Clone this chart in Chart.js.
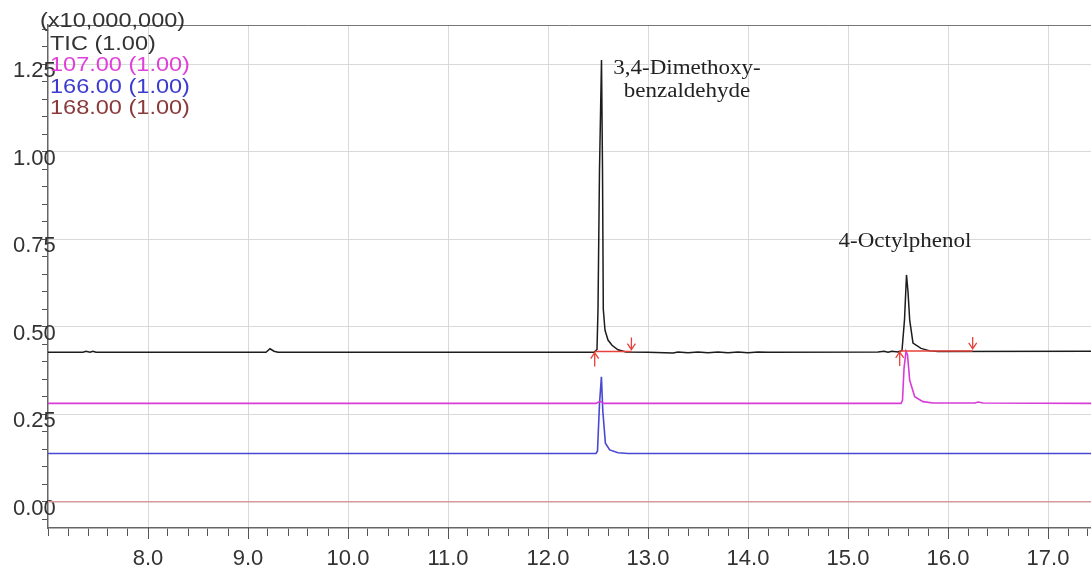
<!DOCTYPE html>
<html>
<head>
<meta charset="utf-8">
<script src="https://cdn.jsdelivr.net/npm/chart.js@4.4.1/dist/chart.umd.min.js"></script>
<style>
  body { margin: 0; background: #fff; }
  #wrap { width: 1091px; height: 571px; }
</style>
</head>
<body>
<div id="wrap"><canvas id="chromChart" width="1091" height="571"></canvas></div>
<script>
// retention time (min) vs intensity (x10,000,000)
const ticTime  = [7.0, 7.35, 7.38, 7.42, 7.45, 7.48, 9.18, 9.22, 9.26, 9.30,
                  12.46, 12.49, 12.50, 12.515, 12.535, 12.545, 12.553, 12.57, 12.60, 12.64, 12.70, 12.78,
                  13.0, 13.25, 13.3, 13.4, 13.5, 13.6, 13.7, 13.8, 13.9, 14.0, 14.1, 14.2,
                  15.30, 15.36, 15.40, 15.44, 15.50, 15.54, 15.565, 15.585, 15.60, 15.617, 15.65, 15.73, 15.82, 15.90, 17.43];
const ticValue = [0.427, 0.427, 0.430, 0.427, 0.430, 0.427, 0.427, 0.437, 0.430, 0.427,
                  0.427, 0.435, 0.55, 0.95, 1.262, 0.95, 0.55, 0.49, 0.462, 0.447, 0.434, 0.428,
                  0.427, 0.425, 0.428, 0.426, 0.428, 0.426, 0.428, 0.426, 0.428, 0.426, 0.428, 0.427,
                  0.428, 0.430, 0.427, 0.430, 0.428, 0.432, 0.52, 0.648, 0.60, 0.519, 0.453, 0.438, 0.431, 0.429, 0.430];

const ion107Time  = [7.0, 12.48, 12.52, 12.56, 15.53, 15.545, 15.56, 15.58, 15.595, 15.617, 15.667, 15.75, 15.85, 16.27, 16.30, 16.35, 17.43];
const ion107Value = [0.281, 0.281, 0.287, 0.281, 0.281, 0.29, 0.38, 0.43, 0.42, 0.347, 0.30, 0.286, 0.282, 0.282, 0.285, 0.282, 0.281];

const ion166Time  = [7.0, 12.48, 12.495, 12.515, 12.534, 12.548, 12.574, 12.617, 12.70, 12.80, 17.43];
const ion166Value = [0.138, 0.138, 0.145, 0.28, 0.357, 0.26, 0.167, 0.148, 0.140, 0.138, 0.138];

const ion168Time  = [7.0, 17.43];
const ion168Value = [0.0, 0.0];

// integration baselines (start, end, level)
const integStart = [12.467, 15.517];
const integEnd   = [12.834, 16.247];
const integLevel = [0.429, 0.431];

// peak annotations
const peakNames = [['3,4-Dimethoxy-', 'benzaldehyde'], ['4-Octylphenol']];
const peakTime  = [13.39, 15.57];
const peakValue = [1.236, 0.742];

const legendLines  = ['TIC (1.00)', '107.00 (1.00)', '166.00 (1.00)', '168.00 (1.00)'];
const legendColors = ['#333333', '#e040d8', '#3b3bd0', '#8a3a3a'];

// axis ticks
const xTicks = [];
for (let k = 0; k <= 52; k++) xTicks.push(+(7 + k * 0.2).toFixed(1));
const yTicks = [];
for (let k = -1; k <= 27; k++) yTicks.push(+(k * 0.05).toFixed(2));

const isMajorX = v => Math.abs(v - Math.round(v)) < 1e-6 && v >= 8;
const isMajorY = v => Math.abs(v / 0.25 - Math.round(v / 0.25)) < 1e-6 && v >= 0;

const toPoints = (ts, vs) => ts.map((t, i) => ({ x: t, y: vs[i] }));
const lineSet = (label, ts, vs, color, width) => ({
    label: label,
    data: toPoints(ts, vs),
    borderColor: color,
    borderWidth: width,
    pointRadius: 0,
    tension: 0,
    fill: false
});

function stretchText(ctx, str, px, py, align, sx) {
    ctx.save();
    ctx.translate(px, py);
    ctx.scale(sx, 1);
    ctx.textAlign = align;
    ctx.textBaseline = 'middle';
    ctx.fillText(str, 0, 0);
    ctx.restore();
}

function arrow(ctx, px, yFrom, yTo) {
    const dir = Math.sign(yTo - yFrom);
    ctx.beginPath();
    ctx.moveTo(px, yFrom);
    ctx.lineTo(px, yTo);
    ctx.moveTo(px - 4, yTo - dir * 6);
    ctx.lineTo(px, yTo);
    ctx.lineTo(px + 4, yTo - dir * 6);
    ctx.stroke();
}

const overlay = {
    id: 'overlay',
    afterDatasetsDraw(chart) {
        const { ctx, chartArea, scales: { x, y } } = chart;

        // top frame
        ctx.save();
        ctx.strokeStyle = '#777';
        ctx.lineWidth = 1;
        ctx.beginPath();
        ctx.moveTo(chartArea.left, chartArea.top + 0.5);
        ctx.lineTo(chartArea.right, chartArea.top + 0.5);
        ctx.stroke();

        // longer marks for whole minutes
        ctx.strokeStyle = '#555';
        xTicks.filter(isMajorX).forEach(t => {
            const px = Math.round(x.getPixelForValue(t)) + 0.5;
            ctx.beginPath();
            ctx.moveTo(px, chartArea.bottom);
            ctx.lineTo(px, chartArea.bottom + 11);
            ctx.stroke();
        });

        // integration arrows
        ctx.strokeStyle = '#e8403a';
        ctx.lineWidth = 1.3;
        integStart.forEach((t0, i) => {
            const py = y.getPixelForValue(integLevel[i]);
            arrow(ctx, x.getPixelForValue(t0), py + 15, py + 1);
            arrow(ctx, x.getPixelForValue(integEnd[i]), py - 14, py - 2);
        });

        // peak names
        ctx.fillStyle = '#222';
        ctx.font = '20px "Liberation Serif", "Times New Roman", serif';
        peakNames.forEach((lines, i) => {
            const px = x.getPixelForValue(peakTime[i]);
            const py = y.getPixelForValue(peakValue[i]);
            lines.forEach((s, j) => stretchText(ctx, s, px, py + j * 23, 'center', 1.15));
        });

        // scale factor + channel legend
        ctx.font = '21px "Liberation Sans", Arial, sans-serif';
        ctx.fillStyle = '#333';
        stretchText(ctx, '(x10,000,000)', 40, 21, 'left', 1.12);
        legendLines.forEach((s, i) => {
            ctx.fillStyle = legendColors[i];
            stretchText(ctx, s, 50, 44 + i * 21.5, 'left', 1.12);
        });
        ctx.restore();
    }
};

const ctx = document.getElementById('chromChart').getContext('2d');
const chromChart = new Chart(ctx, {
    type: 'line',
    data: {
        datasets: [
            lineSet('integ1', [integStart[0], integEnd[0]], [integLevel[0], integLevel[0]], '#e8403a', 1.5),
            lineSet('integ2', [integStart[1], integEnd[1]], [integLevel[1], integLevel[1]], '#e8403a', 1.5),
            lineSet('TIC', ticTime, ticValue, '#1c1c1c', 1.5),
            lineSet('107.00', ion107Time, ion107Value, '#d83cd8', 1.6),
            lineSet('166.00', ion166Time, ion166Value, '#4848d4', 1.6),
            lineSet('168.00', ion168Time, ion168Value, '#d49aa0', 1.6)
        ]
    },
    options: {
        responsive: false,
        animation: false,
        layout: { padding: { top: 25, left: 0, right: 0, bottom: 0 } },
        plugins: {
            legend: { display: false },
            tooltip: { enabled: false }
        },
        scales: {
            x: {
                type: 'linear',
                min: 7,
                max: 17.43,
                afterBuildTicks: s => { s.ticks = xTicks.map(v => ({ value: v })); },
                afterFit: s => { s.height = 43; s.paddingRight = 0; s.paddingLeft = 0; },
                ticks: {
                    autoSkip: false,
                    maxRotation: 0,
                    padding: 10,
                    color: '#333',
                    font: { family: '"Liberation Sans", Arial, sans-serif', size: 22 },
                    callback: v => isMajorX(v) ? v.toFixed(1) : ''
                },
                grid: {
                    color: c => (c.tick && isMajorX(c.tick.value)) ? '#d9d9d9' : 'rgba(0,0,0,0)',
                    tickColor: '#555',
                    tickLength: 8
                },
                border: { color: '#666', width: 1.5 }
            },
            y: {
                min: -0.075,
                max: 1.362,
                afterBuildTicks: s => { s.ticks = yTicks.map(v => ({ value: v })); },
                afterFit: s => { s.width = 48; s.paddingTop = 0; s.paddingBottom = 0; },
                ticks: {
                    autoSkip: false,
                    mirror: true,
                    padding: -35,
                    labelOffset: 7,
                    color: '#333',
                    font: { family: '"Liberation Sans", Arial, sans-serif', size: 22 },
                    callback: v => isMajorY(v) ? v.toFixed(2) : ''
                },
                grid: {
                    color: c => (c.tick && isMajorY(c.tick.value)) ? '#d9d9d9' : 'rgba(0,0,0,0)',
                    tickColor: '#555',
                    tickLength: 6
                },
                border: { color: '#666', width: 1.5 }
            }
        }
    },
    plugins: [overlay]
});
</script>
</body>
</html>
